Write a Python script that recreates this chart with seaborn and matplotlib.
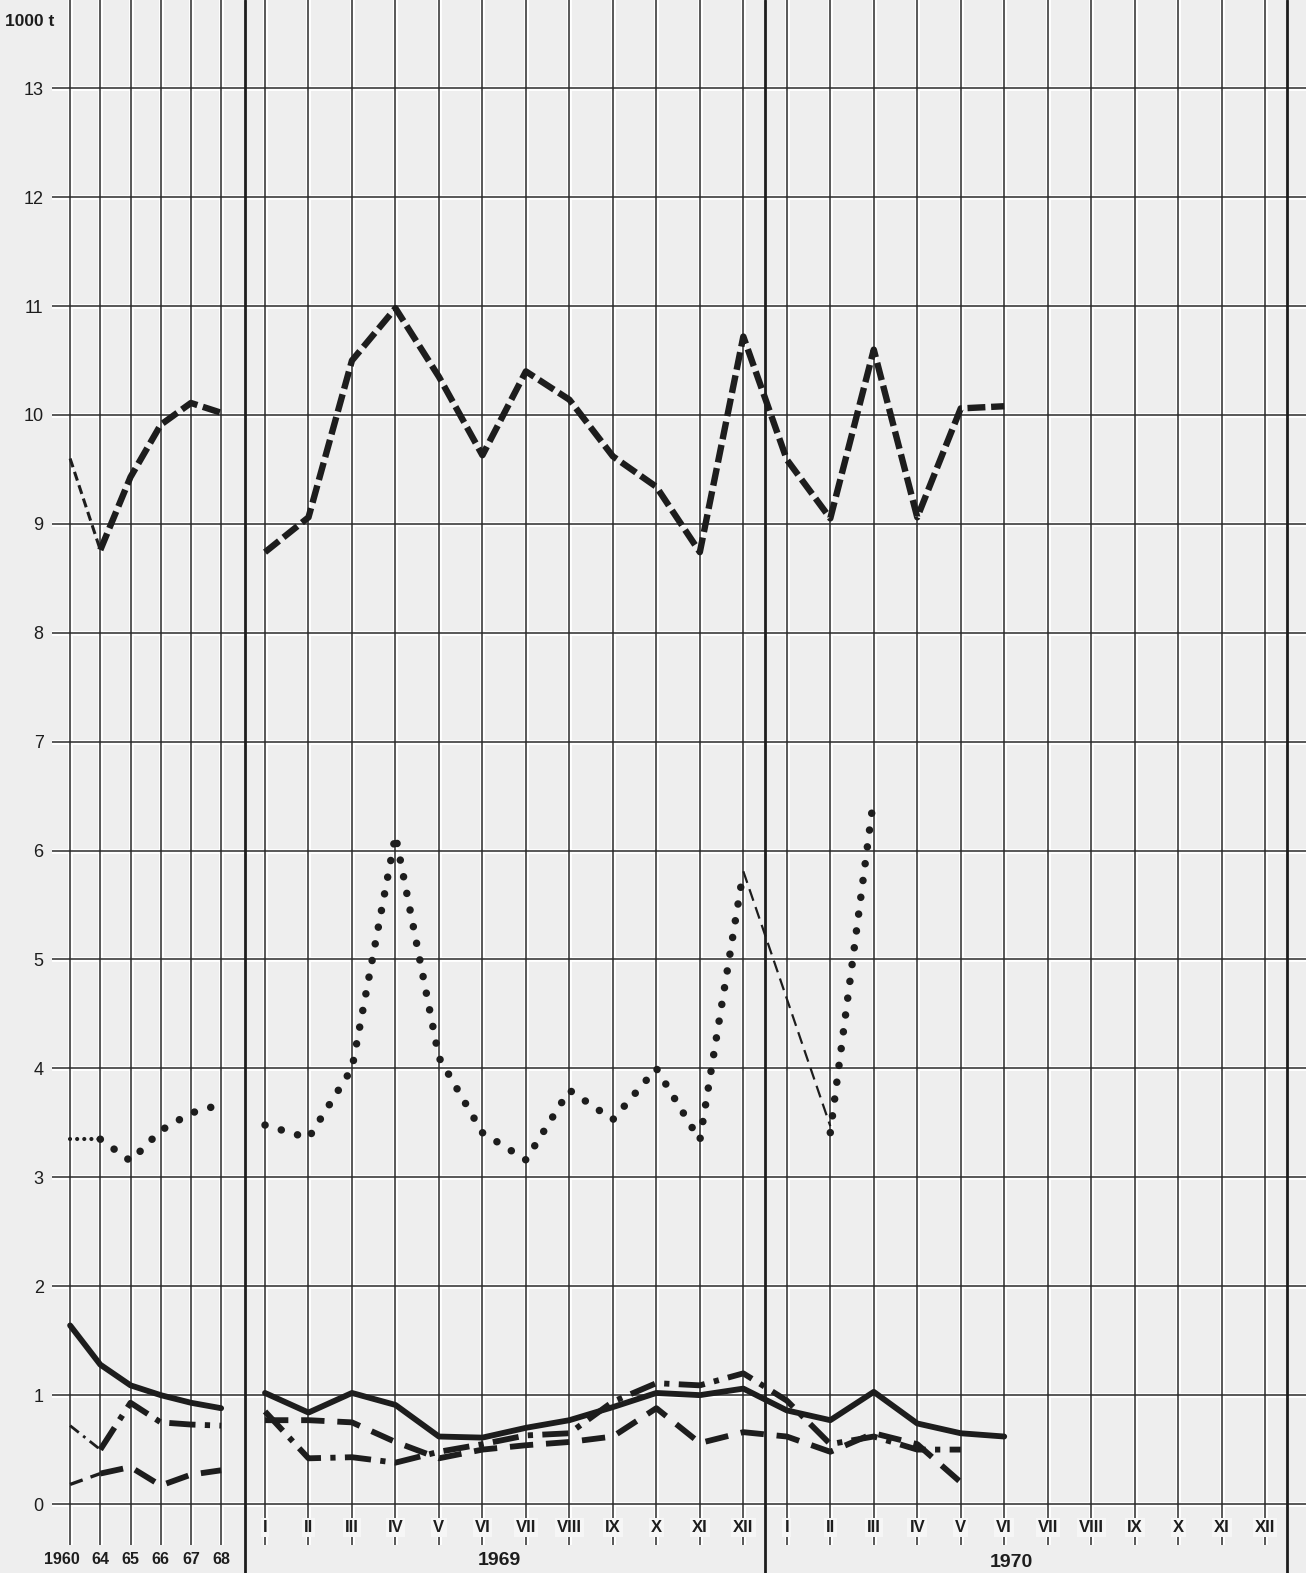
"""
Produktion 1960-1970 (1000 t): Jahreswerte links, Monatswerte 1969/1970 rechts.
"""

import matplotlib
matplotlib.use("Agg")
import matplotlib.pyplot as plt
import numpy as np
import seaborn as sns

sns.set_theme(style="white")
plt.rcParams["font.family"] = ["Liberation Sans", "DejaVu Sans"]

# ---------------------------------------------------------------------------
# Daten
# ---------------------------------------------------------------------------

YEAR_LABELS = ["1960", "64", "65", "66", "67", "68"]
MONTH_LABELS = ["I", "II", "III", "IV", "V", "VI",
                "VII", "VIII", "IX", "X", "XI", "XII"]
PERIOD_LABELS = ["1969", "1970"]

# Jahreswerte
year_a = [9.60, 8.76, 9.43, 9.91, 10.11, 10.02]
year_b = [3.35, 3.35, 3.15, 3.43, 3.59, 3.67]
year_c = [1.64, 1.28, 1.09, 1.00, 0.93, 0.88]
year_d = [0.72, 0.50, 0.93, 0.75, 0.73, 0.72]
year_e = [0.18, 0.28, 0.34, 0.17, 0.27, 0.31]

# Monatswerte ab I/1969
mon_a = [8.74, 9.06, 10.50, 10.98, 10.35, 9.63, 10.40, 10.14, 9.62, 9.34,
         8.74, 10.72, 9.59, 9.05, 10.60, 9.06, 10.06, 10.08]
mon_b69 = [3.48, 3.36, 4.00, 6.14, 4.10, 3.41, 3.16, 3.80, 3.53, 4.00,
           3.34, 5.81]
mon_b70 = [np.nan, 3.41, 6.49]
mon_c = [1.02, 0.84, 1.02, 0.91, 0.62, 0.61, 0.70, 0.77, 0.89, 1.02,
         1.00, 1.06, 0.86, 0.77, 1.03, 0.74, 0.65, 0.62]
mon_d = [0.85, 0.42, 0.43, 0.38, 0.48, 0.55, 0.63, 0.65, 0.94, 1.11,
         1.09, 1.20, 0.95, 0.55, 0.62, 0.50, 0.50]
mon_e = [0.77, 0.77, 0.75, 0.57, 0.42, 0.50, 0.54, 0.57, 0.62, 0.88,
         0.56, 0.66, 0.62, 0.48, 0.65, 0.55, 0.20]

# ---------------------------------------------------------------------------
# Stile
# ---------------------------------------------------------------------------

INK = "#1d1d1d"
GRID = "#2a2a2a"
BG = "#eeeeee"

STYLE_A = dict(linewidth=4.6, linestyle=(0, (2.8, 0.9)))
STYLE_A_THIN = dict(linewidth=2.2, linestyle=(0, (3.0, 1.6)))
STYLE_B = dict(linewidth=5.4, linestyle=(0, (0.01, 2.25)), dash_capstyle="round")
STYLE_B_THIN = dict(linewidth=3.0, linestyle=(0, (0.01, 1.7)), dash_capstyle="round")
STYLE_C = dict(linewidth=4.2, linestyle="-", solid_capstyle="round")
STYLE_D = dict(linewidth=4.2, linestyle=(0, (4.5, 1.6, 0.9, 1.6)))
STYLE_D_THIN = dict(linewidth=2.0, linestyle=(0, (4.0, 2.0, 1.0, 2.0)))
STYLE_E = dict(linewidth=4.2, linestyle=(0, (4.0, 2.2)))
STYLE_E_THIN = dict(linewidth=2.4, linestyle=(0, (4.0, 2.5)))
STYLE_BRIDGE = dict(linewidth=1.6, linestyle=(0, (5.5, 3.0)))


def draw(ax, x, y, style):
    sns.lineplot(x=list(x), y=list(y), ax=ax, color=INK, sort=False,
                 estimator=None, zorder=5, **style)


def grid(ax, xs, yvals):
    for x in xs:
        ax.axvline(x, color="white", linewidth=3.5, zorder=1)
        ax.axvline(x, color=GRID, linewidth=1.1, zorder=2)
    for y in yvals:
        ax.axhline(y, color="white", linewidth=3.5, zorder=1)
        ax.axhline(y, color=GRID, linewidth=1.1, zorder=2)


fig = plt.figure(figsize=(13.06, 15.73), dpi=100, facecolor=BG)
ax_y = fig.add_axes([0.0398, 0.0178, 0.1478, 0.9822], facecolor=BG)
ax_m = fig.add_axes([0.1876, 0.0178, 0.8124, 0.9822], facecolor=BG)

YLIM = (-0.376, 13.81)
y_levels = np.arange(0, 14)

# ---------------------------------------------------------------------------
# Jahre
# ---------------------------------------------------------------------------
xy = np.arange(len(YEAR_LABELS))
grid(ax_y, xy, y_levels)

draw(ax_y, xy[:2], year_a[:2], STYLE_A_THIN)
draw(ax_y, xy[1:], year_a[1:], STYLE_A)
draw(ax_y, xy[:2], year_b[:2], STYLE_B_THIN)
draw(ax_y, xy[1:], year_b[1:], STYLE_B)
draw(ax_y, xy, year_c, STYLE_C)
draw(ax_y, xy[:2], year_d[:2], STYLE_D_THIN)
draw(ax_y, xy[1:], year_d[1:], STYLE_D)
draw(ax_y, xy[:2], year_e[:2], STYLE_E_THIN)
draw(ax_y, xy[1:], year_e[1:], STYLE_E)

ax_y.set_xlim(-0.6, 5.79)
ax_y.set_ylim(*YLIM)
ax_y.set_xticks([])
ax_y.set_yticks(y_levels)
ax_y.set_yticklabels([str(v) for v in y_levels], fontsize=13, color=INK)
ax_y.tick_params(axis="y", length=0, pad=6)
ax_y.set_xlabel("")
ax_y.set_ylabel("")
for i, (lab, x) in enumerate(zip(YEAR_LABELS, xy)):
    shift = -0.28 if i == 0 else 0.0
    ax_y.text(x + shift, -0.51, lab, ha="center", va="center", fontsize=11.5,
              fontweight="bold", color=INK, clip_on=False)

# ---------------------------------------------------------------------------
# Monate 1969 / 1970
# ---------------------------------------------------------------------------
n_m = len(MONTH_LABELS)
xm = np.arange(2 * n_m)
grid(ax_m, xm, y_levels)

for sep in (-0.46, n_m - 0.5, 2 * n_m - 0.5):
    ax_m.axvline(sep, ymin=-0.02, ymax=1, color=INK, linewidth=2.0,
                 zorder=3, clip_on=False)

draw(ax_m, xm[:len(mon_a)], mon_a, STYLE_A)
draw(ax_m, xm[:n_m], mon_b69, STYLE_B)
xb70 = xm[n_m:n_m + len(mon_b70)]
ok = ~np.isnan(mon_b70)
draw(ax_m, xb70[ok], np.array(mon_b70)[ok], STYLE_B)
draw(ax_m, [xm[n_m - 1], xb70[ok][0]], [mon_b69[-1], mon_b70[1] + 0.06],
     STYLE_BRIDGE)
draw(ax_m, xm[:len(mon_c)], mon_c, STYLE_C)
draw(ax_m, xm[:len(mon_d)], mon_d, STYLE_D)
draw(ax_m, xm[:len(mon_e)], mon_e, STYLE_E)

ax_m.set_xlim(-0.46, 23.94)
ax_m.set_ylim(*YLIM)
ax_m.set_xticks([])
ax_m.set_yticks([])
ax_m.set_xlabel("")
ax_m.set_ylabel("")

for i, x in enumerate(xm):
    ax_m.text(x, -0.215, MONTH_LABELS[i % n_m], ha="center", va="center",
              fontsize=12, fontweight="bold", color=INK, zorder=6,
              bbox=dict(fc="#f6f6f6", ec="none", pad=1.5))

ax_m.text(5.4, -0.52, PERIOD_LABELS[0], ha="center", va="center",
          fontsize=14, fontweight="bold", color=INK, clip_on=False)
ax_m.text(17.17, -0.54, PERIOD_LABELS[1], ha="center", va="center",
          fontsize=14, fontweight="bold", color=INK, clip_on=False)

for ax in (ax_y, ax_m):
    for s in ax.spines.values():
        s.set_visible(False)
    if ax.get_legend() is not None:
        ax.get_legend().remove()

fig.text(0.004, 0.9865, "1000 t", ha="left", va="center", fontsize=12.5,
         fontweight="bold", color=INK)

fig.savefig("out.png", dpi=100, facecolor=BG)
